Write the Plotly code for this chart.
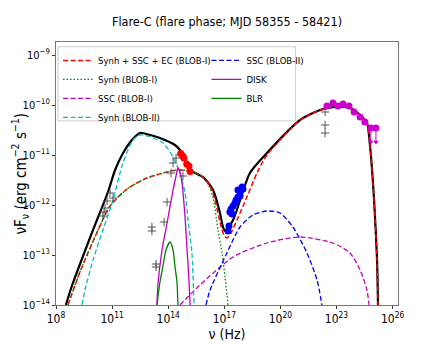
import numpy as np
import plotly.graph_objects as go

# all values as log10(nu [Hz]) and log10(nuFnu [erg cm-2 s-1])
total_lognu = [8.53, 8.84, 9.98, 10.78, 11.16, 11.53, 12.06, 12.49, 13.03, 13.56, 14.36, 14.63, 15.17, 15.86,
               16.4, 16.77, 16.93, 17.04, 17.47, 18.37, 19.28, 21.05, 21.74, 22.49, 23.19, 23.72, 24.26, 24.63,
               24.79, 25.01, 25.17, 25.22]
total_logf = [-14.0, -13.63, -12.5, -11.74, -11.3, -11.0, -10.7, -10.56, -10.6, -10.66, -10.8, -10.9, -11.3, -11.44,
              -11.7, -12.16, -12.44, -12.52, -12.3, -11.36, -10.96, -10.3, -10.16, -10.06, -10.04, -10.06, -10.2,
              -10.36, -10.8, -11.9, -13.1, -14.0]

ec_lognu = [8.64, 9.28, 10.25, 10.89, 11.8, 12.87, 13.94, 14.52, 15.17, 15.7, 16.24, 16.5, 16.77, 16.98, 17.14,
            17.36, 17.68, 18.21, 18.75, 19.28, 21.05, 21.74, 22.49, 23.19, 23.72, 24.26, 24.63, 24.79, 25.01,
            25.17, 25.22]
ec_logf = [-14.0, -13.34, -12.5, -12.02, -11.68, -11.46, -11.34, -11.3, -11.32, -11.4, -11.62, -11.9, -12.34, -12.6,
           -12.66, -12.56, -12.3, -11.84, -11.36, -11.0, -10.3, -10.16, -10.06, -10.04, -10.06, -10.2, -10.36,
           -10.8, -11.9, -13.1, -14.0]

syn1_lognu = [8.64, 9.28, 10.25, 10.89, 11.8, 12.87, 13.94, 14.52, 15.17, 15.7, 16.13, 16.4, 16.66, 16.88, 17.04, 17.2]
syn1_logf = [-14.0, -13.34, -12.5, -12.02, -11.68, -11.46, -11.34, -11.3, -11.32, -11.4, -11.58, -11.86, -12.5,
             -12.96, -13.44, -14.0]

ssc1_lognu = [14.63, 15.7, 17.47, 19.28, 21.05, 22.81, 23.72, 24.26, 24.63, 24.74]
ssc1_logf = [-14.0, -13.6, -13.04, -12.76, -12.64, -12.76, -12.96, -13.3, -13.7, -14.0]

syn2_lognu = [9.39, 9.55, 9.98, 10.51, 11.05, 11.58, 12.12, 12.49, 13.03, 13.72, 14.26, 14.63, 14.9, 15.06,
              15.27, 15.38]
syn2_logf = [-14.0, -13.7, -13.1, -12.5, -11.9, -11.16, -10.7, -10.6, -10.64, -10.76, -11.04, -11.36, -11.76,
             -12.3, -12.96, -14.0]

ssc2_lognu = [16.02, 16.24, 17.14, 17.84, 18.53, 19.28, 19.98, 20.67, 21.42, 21.96, 22.22]
ssc2_logf = [-14.0, -13.7, -12.96, -12.44, -12.2, -12.12, -12.16, -12.44, -12.96, -13.5, -14.0]

disk_lognu = [13.4, 13.45, 13.67, 13.94, 14.26, 14.42, 14.52, 14.63, 14.74, 14.9, 15.01, 15.11, 15.17]
disk_logf = [-14.0, -13.6, -12.9, -12.36, -11.7, -11.42, -11.26, -11.34, -11.56, -12.24, -12.9, -13.5, -14.0]

blr_lognu = [13.4, 13.56, 13.72, 13.88, 14.1, 14.26, 14.36, 14.47, 14.52]
blr_logf = [-14.0, -13.54, -13.22, -12.9, -12.74, -12.9, -13.22, -13.54, -14.0]

# observed data
opt_lognu = [14.67, 14.78, 14.84, 14.99, 15.11, 15.17]
opt_logf = [-10.97, -11.02, -11.06, -11.18, -11.22, -11.33]

xray_lognu = [17.2, 17.25, 17.3, 17.36, 17.41, 17.47, 17.57, 17.63, 17.73, 17.73, 17.84, 17.89, 17.95, 18.0]
xray_logf = [-12.52, -12.42, -12.14, -12.08, -12.18, -12.02, -11.96, -11.9, -11.84, -11.7, -11.82, -11.7,
             -11.64, -11.68]

fermi_lognu = [22.49, 22.81, 23.08, 23.35, 23.67, 23.94, 24.26, 24.52]
fermi_logf = [-10.02, -9.96, -10.02, -9.98, -10.02, -10.14, -10.24, -10.34]

ul_lognu = [24.84, 25.11]
ul_logf = [-10.46, -10.46]
ul_tip_logf = [-10.74, -10.74]

arch_lognu = [10.89, 11.05, 10.73, 10.62, 10.57, 10.51, 14.68, 14.42, 14.26, 14.15, 14.79, 13.94, 13.78, 13.13,
              13.13, 13.35, 13.35, 22.39, 22.39, 22.39]
arch_logf = [-11.76, -11.86, -11.92, -12.06, -12.14, -12.22, -11.0, -11.06, -11.16, -11.36, -11.42, -11.94,
             -12.34, -12.44, -12.52, -13.18, -13.24, -10.14, -10.4, -10.56]

x_ticks = [8, 11, 14, 17, 20, 23, 26]
y_ticks = [-14, -13, -12, -11, -10, -9]


def lin(v):
    return np.power(10.0, np.array(v))


FONT = "DejaVu Sans Condensed, Liberation Sans Narrow, Liberation Sans, sans-serif"
DASH = "5px,2.5px"

fig = go.Figure()

models = [
    ("Synh + SSC + EC (BLOB-I)", ec_lognu, ec_logf, "red", DASH, 1.5, "legend"),
    ("Synh (BLOB-I)", syn1_lognu, syn1_logf, "green", "1.5px,2px", 1.3, "legend"),
    ("SSC (BLOB-I)", ssc1_lognu, ssc1_logf, "#bf00bf", DASH, 1.3, "legend"),
    ("Synh (BLOB-II)", syn2_lognu, syn2_logf, "#00bfbf", DASH, 1.3, "legend"),
    ("SSC (BLOB-II)", ssc2_lognu, ssc2_logf, "blue", DASH, 1.3, "legend2"),
    ("DISK", disk_lognu, disk_logf, "#bf00bf", "solid", 1.3, "legend2"),
    ("BLR", blr_lognu, blr_logf, "green", "solid", 1.3, "legend2"),
]

fig.add_trace(go.Scatter(x=lin(total_lognu), y=lin(total_logf), mode="lines",
                         line=dict(color="black", width=2.2, shape="spline", smoothing=0.7),
                         showlegend=False))
for name, xs, ys, col, dash, w, leg in models:
    fig.add_trace(go.Scatter(x=lin(xs), y=lin(ys), mode="lines", name=name, legend=leg,
                             line=dict(color=col, width=w, dash=dash, shape="spline", smoothing=0.7)))

fig.add_trace(go.Scatter(x=lin(arch_lognu), y=lin(arch_logf), mode="markers", showlegend=False,
                         marker=dict(symbol="cross-thin", size=6, line=dict(color="#555555", width=1))))
fig.add_trace(go.Scatter(x=lin(opt_lognu), y=lin(opt_logf), mode="markers", showlegend=False,
                         marker=dict(color="red", size=7)))
fig.add_trace(go.Scatter(x=lin(xray_lognu), y=lin(xray_logf), mode="markers", showlegend=False,
                         marker=dict(color="blue", size=7)))
fig.add_trace(go.Scatter(x=lin(fermi_lognu), y=lin(fermi_logf), mode="markers", showlegend=False,
                         marker=dict(color="#cc00cc", size=7)))
fig.add_trace(go.Scatter(x=lin(ul_lognu), y=lin(ul_logf), mode="markers", showlegend=False,
                         marker=dict(color="#cc00cc", size=7),
                         error_y=dict(type="data", symmetric=False, array=[0, 0],
                                      arrayminus=lin(ul_logf) - lin(ul_tip_logf),
                                      color="#cc00cc", thickness=1, width=0)))
fig.add_trace(go.Scatter(x=lin(ul_lognu), y=lin(ul_tip_logf), mode="markers", showlegend=False,
                         marker=dict(color="#cc00cc", size=5, symbol="triangle-down")))

fig.add_shape(type="rect", xref="paper", yref="paper", x0=0.006, x1=0.70, y0=0.70, y1=0.982,
              line=dict(color="#cccccc", width=1), fillcolor="white", layer="below")

# y label as an annotation so it sits where the reference has it
fig.add_annotation(text="νF<sub>ν</sub> (erg cm<sup>−2</sup> s<sup>−1</sup>)", textangle=-90,
                   xref="paper", yref="paper", x=-36 / 342, y=0.5, xanchor="center", yanchor="middle",
                   showarrow=False, font=dict(size=15))

# the page adds an 8px body margin, so the margins are trimmed by 8px on the left and top
fig.update_layout(
    width=443, height=346,
    margin=dict(l=48, r=53, t=34, b=49),
    paper_bgcolor="white", plot_bgcolor="white",
    font=dict(family=FONT, color="black", size=11),
    title=dict(text="Flare-C (flare phase; MJD 58355 - 58421)", x=0.5, xref="paper",
               y=1 - 14 / 346, yanchor="middle", font=dict(size=12.5), automargin=False),
    legend=dict(x=0.006, y=0.985, xanchor="left", yanchor="top", bgcolor="rgba(0,0,0,0)",
                font=dict(size=9.5), tracegroupgap=0),
    legend2=dict(x=0.44, y=0.985, xanchor="left", yanchor="top", bgcolor="rgba(0,0,0,0)",
                 font=dict(size=9.5), tracegroupgap=0),
)
fig.update_xaxes(type="log", range=[8, 26.29], tickvals=lin(x_ticks), automargin=False,
                 ticktext=["10<sup>%d</sup>" % t for t in x_ticks],
                 showline=True, mirror=True, linecolor="#777777", linewidth=1,
                 ticks="outside", ticklen=3, tickcolor="#333333", showgrid=False, zeroline=False,
                 tickfont=dict(size=12),
                 title=dict(text="ν (Hz)", font=dict(size=14), standoff=2))
fig.update_yaxes(type="log", range=[-14, -8.74], tickvals=lin(y_ticks), automargin=False,
                 ticktext=["10<sup>−%d</sup>" % abs(t) for t in y_ticks],
                 showline=True, mirror=True, linecolor="#777777", linewidth=1,
                 ticks="outside", ticklen=3, tickcolor="#333333", showgrid=False, zeroline=False,
                 tickfont=dict(size=11))

fig.write_html("out.html")
